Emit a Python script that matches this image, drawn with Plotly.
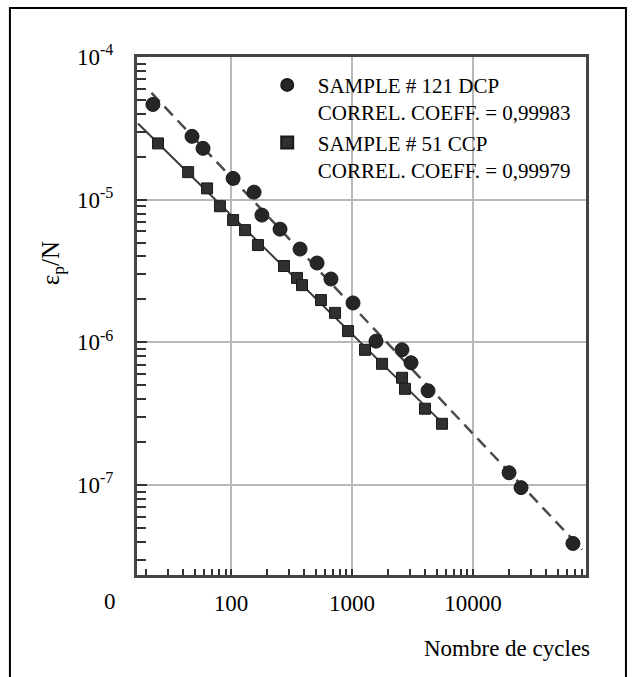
import numpy as np
import plotly.graph_objects as go

# ---- data ----
dcp_cycles = [22.6, 47.6, 58.7, 104, 155, 180, 254, 372, 514, 670, 1019, 1578,
              2588, 3075, 4250, 19860, 24950, 67000]
dcp_eps_n = [4.65e-5, 2.78e-5, 2.29e-5, 1.41e-5, 1.13e-5, 7.8e-6, 6.22e-6, 4.51e-6,
             3.6e-6, 2.78e-6, 1.89e-6, 1.02e-6, 8.87e-7, 7.2e-7, 4.58e-7, 1.22e-7,
             9.6e-8, 3.9e-8]
ccp_cycles = [24.9, 44.2, 63.4, 81, 104, 130.6, 167, 274, 351, 386, 554, 724, 927,
              1280, 1770, 2590, 2740, 4010, 5540]
ccp_eps_n = [2.48e-5, 1.56e-5, 1.2e-5, 9.0e-6, 7.2e-6, 6.12e-6, 4.81e-6, 3.43e-6,
             2.83e-6, 2.52e-6, 1.98e-6, 1.61e-6, 1.2e-6, 8.87e-7, 7.08e-7, 5.65e-7,
             4.73e-7, 3.43e-7, 2.69e-7]
dcp_fit_span = [22, 80000]
ccp_fit_span = [17, 6100]

dcp_lines = ["SAMPLE # 121 DCP", "CORREL. COEFF. = 0,99983"]
ccp_lines = ["SAMPLE # 51 CCP", "CORREL. COEFF. = 0,99979"]

x_tickvals = [100, 1000, 10000]
x_ticktext = ["100", "1000", "10000"]
x_zero_label = "0"
y_tickvals = [1e-4, 1e-5, 1e-6, 1e-7]
y_ticktext = ["10<sup>-4</sup>", "10<sup>-5</sup>", "10<sup>-6</sup>", "10<sup>-7</sup>"]
x_title = "Nombre de cycles"
y_title = "ε<sub>p</sub>/N"

FONT = "Liberation Serif, Times New Roman, serif"

X_RANGE = [np.log10(16.7), 4.934]
PAD = "&nbsp;&nbsp;"


def legend_name(lines):
    return "<br>".join(PAD + s for s in lines)


def fit_line(xs, ys, span):
    s, b = np.polyfit(np.log10(xs), np.log10(ys), 1)
    lx = np.array(span, dtype=float)
    return lx, 10 ** (b + s * np.log10(lx))


minor_x = [m * 10 ** e for e in range(1, 5) for m in range(2, 10)]
minor_y = [m * 10 ** e for e in range(-8, -4) for m in range(2, 10)]

fig = go.Figure()

lx, ly = fit_line(dcp_cycles, dcp_eps_n, dcp_fit_span)
fig.add_trace(go.Scatter(x=lx, y=ly, mode="lines", showlegend=False,
                         line=dict(color="#4a4a4a", width=2.5, dash="12px,7px")))
lx, ly = fit_line(ccp_cycles, ccp_eps_n, ccp_fit_span)
fig.add_trace(go.Scatter(x=lx, y=ly, mode="lines", showlegend=False,
                         line=dict(color="#3a3a3a", width=2)))

fig.add_trace(go.Scatter(x=dcp_cycles, y=dcp_eps_n, mode="markers",
                         name=legend_name(dcp_lines),
                         marker=dict(symbol="circle", size=14, color="#262626",
                                     line=dict(color="#1a1a1a", width=1))))
fig.add_trace(go.Scatter(x=ccp_cycles, y=ccp_eps_n, mode="markers",
                         name=legend_name(ccp_lines),
                         marker=dict(symbol="square", size=11, color="#303030",
                                     line=dict(color="#1a1a1a", width=1))))

axis_common = dict(
    type="log", showgrid=True, gridcolor="#b8b8b8", gridwidth=2,
    showline=True, linecolor="#444444", linewidth=3, mirror=True,
    ticks="inside", tickwidth=2, tickcolor="#333333", zeroline=False,
    tickfont=dict(family=FONT, size=23, color="black"),
)

fig.update_xaxes(**axis_common, range=X_RANGE,
                 tickmode="array", tickvals=x_tickvals, ticktext=x_ticktext,
                 ticklen=6, ticklabelstandoff=5,
                 minor=dict(tickmode="array", tickvals=minor_x, ticks="inside",
                            ticklen=6, tickwidth=2, tickcolor="#333333", showgrid=False))
fig.update_yaxes(**axis_common, range=[-7.63, -4.0],
                 tickmode="array", tickvals=y_tickvals, ticktext=y_ticktext,
                 ticklen=10, ticklabelstandoff=16,
                 minor=dict(tickmode="array", tickvals=minor_y, ticks="inside",
                            ticklen=9, tickwidth=2, tickcolor="#333333", showgrid=False))

zero_x_paper = (np.log10(10) - X_RANGE[0]) / (X_RANGE[1] - X_RANGE[0])

fig.update_layout(
    width=635, height=677,
    margin=dict(l=137, r=49, t=57, b=102),
    paper_bgcolor="white", plot_bgcolor="white",
    font=dict(family=FONT, color="black"),
    legend=dict(x=0.29, y=0.985, xanchor="left", yanchor="top",
                bgcolor="rgba(0,0,0,0)", font=dict(family=FONT, size=21, color="black"),
                valign="top", itemsizing="constant"),
    annotations=[
        dict(text=x_zero_label, xref="paper", yref="paper", x=zero_x_paper, y=-0.052,
             showarrow=False, xanchor="center", yanchor="middle",
             font=dict(family=FONT, size=23, color="black")),
        dict(text=x_title, xref="paper", yref="paper", x=0.824, y=-0.141,
             showarrow=False, xanchor="center", yanchor="middle",
             font=dict(family=FONT, size=23, color="black")),
        dict(text=y_title, xref="paper", yref="paper", x=-0.189, y=0.602,
             showarrow=False, textangle=-90, xanchor="center", yanchor="middle",
             font=dict(family=FONT, size=25, color="black")),
    ],
    shapes=[dict(type="rect", xref="paper", yref="paper",
                 x0=-0.283, x1=1.089, y0=-0.30, y1=1.0946,
                 line=dict(color="black", width=2), layer="below")],
)

fig.write_html("out.html")
